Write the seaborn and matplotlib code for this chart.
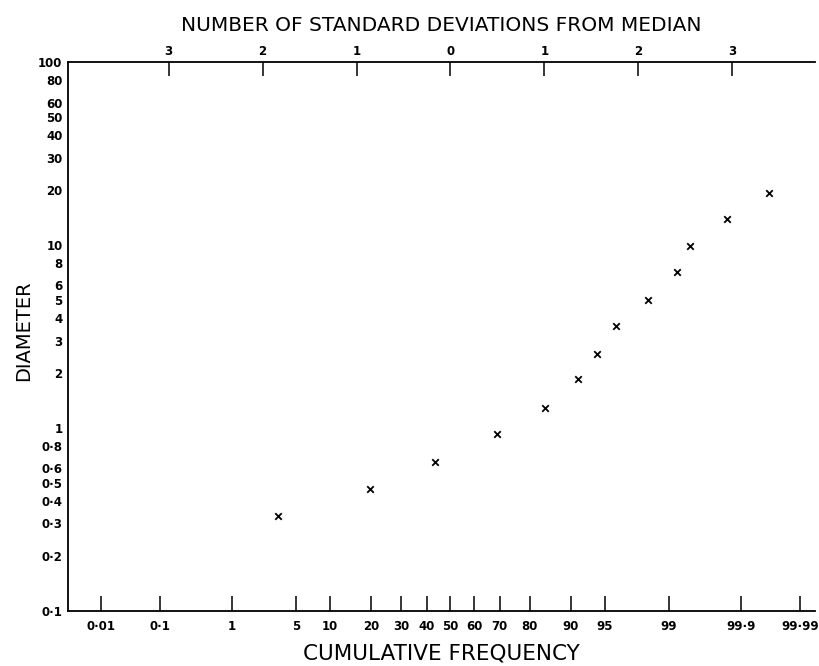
import numpy as np
import pandas as pd
import matplotlib
matplotlib.use("Agg")
import matplotlib.pyplot as plt
import matplotlib.ticker as mticker
import seaborn as sns
from statistics import NormalDist

# values
cum_freq = [3.3, 19.5, 43.6, 69.0, 84.4, 91.3, 94.0, 96.1, 98.24, 99.2, 99.46, 99.84, 99.965]
diameter = [0.33, 0.46, 0.65, 0.92, 1.29, 1.84, 2.53, 3.59, 4.97, 7.07, 9.92, 13.9, 19.2]

freq_ticks = [0.01, 0.1, 1, 5, 10, 20, 30, 40, 50, 60, 70, 80, 90, 95, 99, 99.9, 99.99]
freq_labels = ["0·01", "0·1", "1", "5", "10", "20", "30", "40", "50", "60", "70",
               "80", "90", "95", "99", "99·9", "99·99"]
sd_ticks = [-3, -2, -1, 0, 1, 2, 3]
sd_labels = ["3", "2", "1", "0", "1", "2", "3"]
diam_ticks = [0.1, 0.2, 0.3, 0.4, 0.5, 0.6, 0.7, 0.8, 0.9,
              1, 2, 3, 4, 5, 6, 7, 8, 9,
              10, 20, 30, 40, 50, 60, 70, 80, 90, 100]
diam_labels = ["0·1", "0·2", "0·3", "0·4", "0·5", "0·6", "", "0·8", "",
               "1", "2", "3", "4", "5", "6", "", "8", "",
               "10", "20", "30", "40", "50", "60", "", "80", "", "100"]

df = pd.DataFrame({"freq": cum_freq, "diameter": diameter})

nd = NormalDist()
_ppf = np.vectorize(nd.inv_cdf, otypes=[float])
_cdf = np.vectorize(nd.cdf, otypes=[float])


def to_sd(p):
    p = np.clip(np.asarray(p, dtype=float) / 100.0, 1e-12, 1 - 1e-12)
    return _ppf(p)


def from_sd(z):
    return _cdf(np.asarray(z, dtype=float)) * 100.0


sd_lo, sd_hi = -4.07, 3.88

sns.set_style("white")
plt.rcParams["font.family"] = ["DejaVu Sans"]
plt.rcParams["text.color"] = "black"
plt.rcParams["axes.labelcolor"] = "black"
plt.rcParams["xtick.color"] = "black"
plt.rcParams["ytick.color"] = "black"

fig = plt.figure(figsize=(8.2, 6.66), dpi=100)
ax = fig.add_axes([0.083, 0.083, 0.911, 0.824])

ax.set_xscale("function", functions=(to_sd, from_sd))
ax.set_yscale("log")

sns.scatterplot(data=df, x="freq", y="diameter", marker="x", s=22,
                color="black", linewidth=1.3, ax=ax, legend=False)

ax.set_xlim(float(from_sd(sd_lo)), float(from_sd(sd_hi)))
ax.set_ylim(0.1, 100)

ax.set_xticks(freq_ticks)
ax.set_xticklabels(freq_labels, fontweight="semibold")
ax.xaxis.set_minor_locator(mticker.NullLocator())
ax.set_yticks(diam_ticks)
ax.set_yticklabels(diam_labels, fontweight="bold")
ax.yaxis.set_minor_locator(mticker.NullLocator())

ax.tick_params(axis="x", direction="in", length=11, width=1.1, pad=7,
               labelsize=8.5)
ax.tick_params(axis="y", direction="in", length=11, width=1.1, pad=4,
               labelsize=8.5)

for side in ["right", "top"]:
    ax.spines[side].set_visible(False)
for side in ["left", "bottom"]:
    ax.spines[side].set_color("black")
    ax.spines[side].set_linewidth(1.3)

ax.set_xlabel("CUMULATIVE FREQUENCY", fontsize=15.5, labelpad=7)
ax.set_ylabel("DIAMETER", fontsize=14, labelpad=8)
ax.yaxis.set_label_coords(-0.047, 0.51)

# standard deviation axis on top
ax2 = ax.twiny()
ax2.set_xlim(sd_lo, sd_hi)
ax2.set_xticks(sd_ticks)
ax2.set_xticklabels(sd_labels, fontweight="semibold")
ax2.tick_params(axis="x", direction="in", length=10, width=1.1, pad=3,
                labelsize=8.5)
for side in ["right", "left", "bottom"]:
    ax2.spines[side].set_visible(False)
ax2.spines["top"].set_color("black")
ax2.spines["top"].set_linewidth(1.3)
ax2.set_xlabel("NUMBER OF STANDARD DEVIATIONS FROM MEDIAN", fontsize=14.5, labelpad=10)

fig.savefig("out.png", dpi=100)
